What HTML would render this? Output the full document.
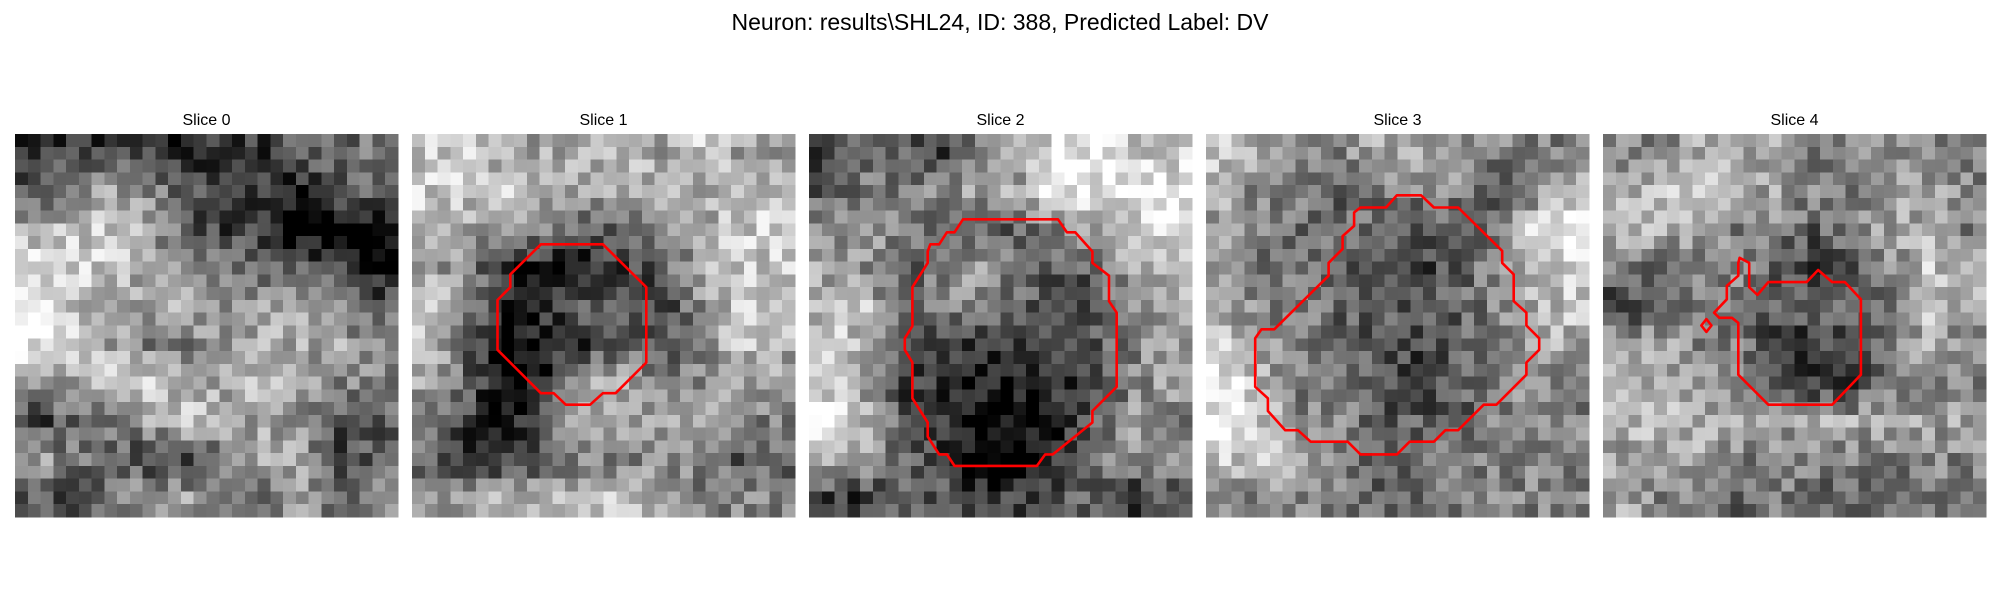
<!DOCTYPE html>
<html><head><meta charset="utf-8">
<style>
html,body{margin:0;padding:0;background:#fff;width:2000px;height:600px;overflow:hidden;font-family:"Liberation Sans","DejaVu Sans",sans-serif;}
svg{position:absolute;left:0;top:0;}
</style></head>
<body>
<svg id="fig" width="2000" height="600" viewBox="0 0 2000 600">
<text x="1000" y="30" text-anchor="middle" font-size="23" fill="#000">Neuron: results\SHL24, ID: 388, Predicted Label: DV</text>
</svg>
<script>
const sliceTitles = ["Slice 0","Slice 1","Slice 2","Slice 3","Slice 4"];
const coarse0 = [[3,3,3,4,2,3,3,4,4,5],[4,5,6,5,4,3,3,2,4,4],[6,7,7,6,4,3,3,1,1,1],[8,7,7,6,5,5,4,4,3,2],[8,7,6,6,6,5,6,6,5,4],[8,8,6,5,5,6,6,6,6,5],[6,6,7,7,6,6,7,6,5,5],[3,4,5,6,7,6,6,5,4,4],[6,5,4,3,3,5,6,6,3,4],[4,3,5,6,6,4,4,6,4,5]];
const coarse1 = [[7,7,6,6,6,7,6,7,6,6],[7,7,7,6,6,6,6,6,7,7],[7,6,5,5,4,4,5,6,7,7],[6,5,3,2,2,3,4,6,7,7],[7,5,2,3,4,4,3,5,7,7],[7,4,1,2,3,4,4,5,7,6],[6,4,1,3,6,6,5,5,6,6],[5,3,2,4,6,6,6,6,5,5],[4,3,3,4,5,5,5,5,4,4],[6,6,6,6,7,7,6,5,5,5]];
const coarse2 = [[3,4,4,3,5,6,8,8,7,7],[4,5,5,5,6,6,8,8,8,8],[5,6,5,4,4,4,5,6,7,8],[6,5,4,5,6,5,4,4,6,7],[6,7,4,5,5,4,3,4,6,6],[8,6,3,3,3,3,3,4,5,6],[7,6,3,3,2,2,3,3,5,6],[8,6,4,3,2,2,2,4,6,5],[7,6,4,3,1,1,3,5,5,5],[3,3,4,4,3,3,4,4,3,4]];
const coarse3 = [[7,6,5,5,6,6,6,5,5,5],[6,5,5,4,5,5,5,4,5,7],[6,5,4,5,4,4,4,5,7,8],[5,4,5,4,3,3,4,5,7,7],[6,5,5,4,4,4,4,5,6,7],[7,6,5,4,4,3,4,5,6,6],[8,6,5,5,4,3,4,4,6,5],[8,7,5,5,4,4,4,5,6,5],[7,7,6,5,4,4,5,5,5,5],[5,5,5,5,4,4,5,5,5,5]];
const coarse4 = [[5,5,6,6,6,5,5,5,5,5],[6,7,7,6,6,5,5,6,6,5],[7,6,6,5,5,4,5,6,6,5],[5,4,5,5,4,3,4,5,7,6],[3,4,5,5,4,4,4,5,7,6],[6,6,5,5,3,3,4,5,6,5],[6,6,6,5,3,3,3,5,5,5],[6,7,6,6,6,6,6,6,6,6],[6,6,6,5,5,5,5,5,5,5],[6,5,5,4,5,4,4,4,5,5]];
const contour1 = [[10.1,8.64],[14.95,8.64],[18.35,12.0],[18.35,17.9],[15.95,20.3],[14.95,20.3],[13.95,21.2],[12.05,21.2],[11.1,20.3],[10.1,20.3],[6.7,16.9],[6.7,13.0],[7.7,12.0],[7.7,11.0]];
const contour2 = [[12.06,6.68],[19.5,6.68],[20.2,7.7],[20.85,7.7],[22.2,9.2],[22.2,10.1],[23.5,11.1],[23.5,13.1],[24.1,14.0],[24.1,19.8],[22.2,21.7],[22.2,22.6],[19.1,25.1],[18.5,25.1],[17.85,26.0],[11.4,26.0],[10.8,25.1],[10.2,25.1],[9.3,23.7],[9.3,22.6],[8.1,20.7],[8.1,17.9],[7.5,16.9],[7.5,16.0],[8.1,15.05],[8.1,12.0],[9.3,10.1],[9.3,9.2],[9.5,8.64],[10.2,8.64],[10.8,7.7],[11.4,7.7]];
const contour3 = [[14.95,4.8],[16.85,4.8],[17.85,5.76],[19.75,5.76],[23.2,9.16],[23.2,10.1],[24.1,11.0],[24.1,13.1],[25.1,14.0],[25.1,15.0],[26.1,16.0],[26.1,16.9],[25.1,17.9],[25.1,18.85],[22.75,21.2],[21.75,21.2],[19.75,23.2],[18.75,23.2],[17.85,24.1],[15.95,24.1],[14.95,25.1],[12.1,25.1],[11.1,24.1],[8.2,24.1],[7.2,23.2],[6.2,23.2],[4.85,21.7],[4.85,20.7],[3.85,19.8],[3.85,16.0],[4.35,15.3],[5.35,15.3],[9.6,11.1],[9.6,10.1],[10.7,9.0],[10.7,8.0],[11.6,7.2],[11.6,6.15],[12.1,5.76],[14.1,5.76]];
const contour4 = [[10.7,9.7],[11.45,10.1],[11.45,12.0],[12.1,12.6],[12.95,11.6],[15.95,11.6],[16.85,10.65],[17.95,11.6],[18.95,11.6],[20.2,12.95],[20.2,18.85],[17.95,21.2],[12.95,21.2],[10.6,18.85],[10.6,14.8],[10.1,14.4],[9.1,14.4],[8.7,14.0],[9.7,12.95],[9.7,11.9],[10.6,11.1],[10.6,10.1]];
const contour4b = [[8.1,14.5],[8.5,15.0],[8.1,15.5],[7.7,15.0]];
const coarseMaps = [coarse0,coarse1,coarse2,coarse3,coarse4];
const contours = [[],[contour1],[contour2],[contour3],[contour4,contour4b]];

const NS = "http://www.w3.org/2000/svg";
const svg = document.getElementById("fig");
const panelX = [15,412,809,1206,1603];
const panelY = 134, panelSize = 383, N = 30, cell = panelSize/N;

function sampleCoarse(m, r, c){
  const fy = Math.min(9, Math.max(0, (r+0.5)/3 - 0.5));
  const fx = Math.min(9, Math.max(0, (c+0.5)/3 - 0.5));
  const y0 = Math.floor(fy), x0 = Math.floor(fx);
  const y1 = Math.min(9,y0+1), x1 = Math.min(9,x0+1);
  const ty = fy-y0, tx = fx-x0;
  return m[y0][x0]*(1-ty)*(1-tx)+m[y0][x1]*(1-ty)*tx+m[y1][x0]*ty*(1-tx)+m[y1][x1]*ty*tx;
}
function texture(p,r,c){
  let h = (p*7919 + r*104729 + c*1299709) % 1000;
  h = (h*h*31 + 17) % 1000;
  return (h/1000 - 0.5)*2.6;
}
function px(p,u){return panelX[p] + u*cell;}
function py(v){return panelY + v*cell;}

for(let p=0;p<5;p++){
  const g = document.createElementNS(NS,"g");
  
  
  svg.appendChild(g);
  const t = document.createElementNS(NS,"text");
  t.setAttribute("x", panelX[p]+panelSize/2);
  t.setAttribute("y", 125);
  t.setAttribute("text-anchor","middle");
  t.setAttribute("font-size","16");
  t.textContent = sliceTitles[p];
  
  
  g.appendChild(t);
  const img = document.createElementNS(NS,"g");
  
  
  img.setAttribute("shape-rendering","crispEdges");
  g.appendChild(img);
  for(let r=0;r<N;r++){
    for(let c=0;c<N;c++){
      let v = sampleCoarse(coarseMaps[p], r, c) + texture(p,r,c);
      let gray = Math.round(128 + (v-5)*36);
      gray = Math.max(0, Math.min(255, gray));
      const rect = document.createElementNS(NS,"rect");
      rect.setAttribute("x", (panelX[p]+c*cell).toFixed(2));
      rect.setAttribute("y", (panelY+r*cell).toFixed(2));
      rect.setAttribute("width", (cell+0.6).toFixed(2));
      rect.setAttribute("height", (cell+0.6).toFixed(2));
      rect.setAttribute("fill", `rgb(${gray},${gray},${gray})`);
      
      
      img.appendChild(rect);
    }
  }
  contours[p].forEach((poly,i)=>{
    const pl = document.createElementNS(NS,"polygon");
    pl.setAttribute("points", poly.map(q=>px(p,q[0]).toFixed(1)+","+py(q[1]).toFixed(1)).join(" "));
    pl.setAttribute("fill","none");
    pl.setAttribute("stroke","#ff0000");
    pl.setAttribute("stroke-width","2.6");
    pl.setAttribute("stroke-linejoin","round");
    
    
    g.appendChild(pl);
  });
}
</script>
</body></html>
